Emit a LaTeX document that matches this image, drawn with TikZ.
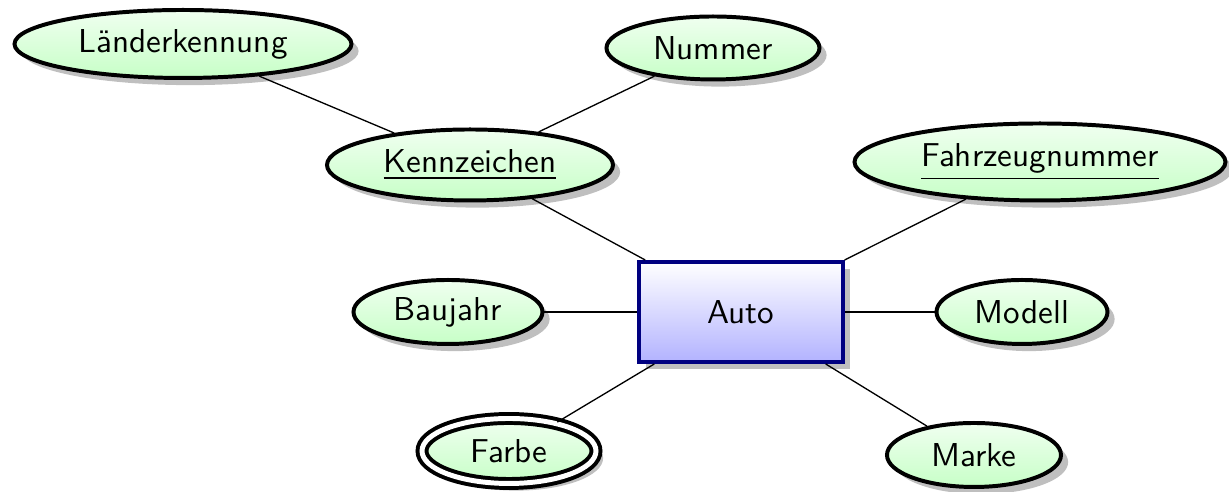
\documentclass[tikz,border=0pt]{standalone}
\usetikzlibrary{shapes.geometric,shadows}
\newcommand{\pxu}{0.3021pt}
\begin{document}
\begin{tikzpicture}[x=0.3021pt,y=-0.3021pt,
  font=\sffamily,
  attr/.style={ellipse, draw=black, very thick, inner sep=0pt,
    top color=green!6, bottom color=green!22, drop shadow},
  multiattr/.style={attr, double, double distance=1.5pt},
  entity/.style={rectangle, draw=blue!50!black, very thick, inner sep=0pt,
    top color=white, bottom color=blue!30, drop shadow,
    minimum width=204*\pxu, minimum height=100*\pxu},
  conn/.style={draw=black}]
\useasboundingbox (0,0) rectangle (1229,492);
\node[entity] (auto) at (741,312) {Auto};
\node[attr, minimum width=337*\pxu, minimum height=68*\pxu] (land) at (183,44) {Länderkennung};
\node[attr, minimum width=213*\pxu, minimum height=63*\pxu] (num) at (713,48) {Nummer};
\node[attr, minimum width=286*\pxu, minimum height=71*\pxu] (kenn) at (470,165) {\underline{Kennzeichen}};
\node[attr, minimum width=371*\pxu, minimum height=77*\pxu] (fzn) at (1040,162) {\underline{Fahrzeugnummer}};
\node[attr, minimum width=189*\pxu, minimum height=64*\pxu] (bau) at (448,312) {Baujahr};
\node[attr, minimum width=171*\pxu, minimum height=64*\pxu] (mod) at (1022,312) {Modell};
\node[attr, minimum width=174*\pxu, minimum height=64*\pxu] (mar) at (974,455) {Marke};
\node[multiattr, minimum width=174*\pxu, minimum height=65*\pxu] (far) at (509,451) {Farbe};
\begin{scope}[on background layer/.style={}]
\end{scope}
\draw[conn] (land) -- (kenn);
\draw[conn] (num) -- (kenn);
\draw[conn] (kenn) -- (auto);
\draw[conn] (fzn) -- (auto);
\draw[conn] (bau) -- (auto);
\draw[conn] (mod) -- (auto);
\draw[conn] (far) -- (auto);
\draw[conn] (mar) -- (auto);
\end{tikzpicture}
\end{document}
